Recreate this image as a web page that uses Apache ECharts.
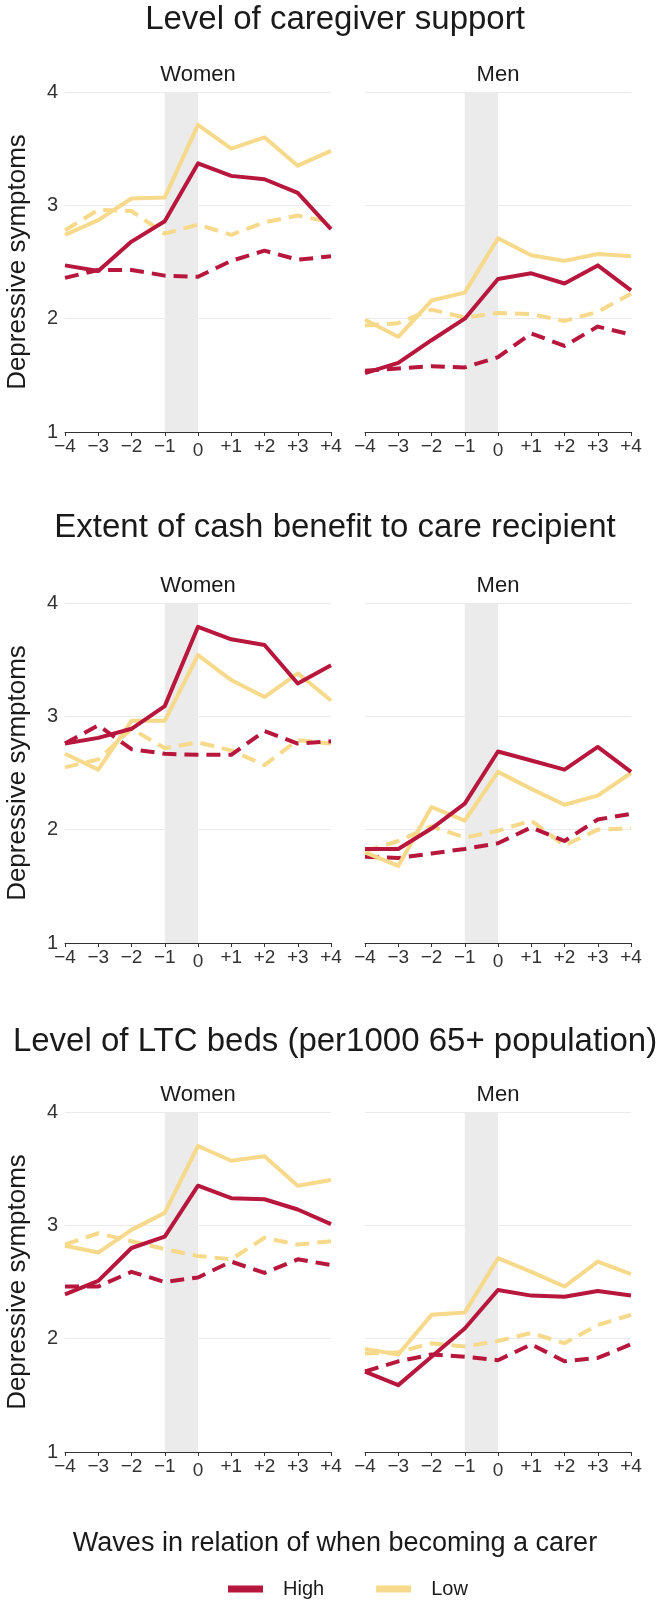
<!DOCTYPE html>
<html>
<head>
<meta charset="utf-8">
<script src="https://cdn.jsdelivr.net/npm/echarts@6/dist/echarts.min.js"></script>
<style>
  html, body { margin: 0; padding: 0; background: #fff; }
  #chart { width: 670px; height: 1600px; }
</style>
</head>
<body>
<div id="chart"></div>
<script>
// waves relative to becoming a carer
const waves = ['\u22124', '\u22123', '\u22122', '\u22121', '0', '+1', '+2', '+3', '+4'];
const sexes = ['Women', 'Men'];
const panelTitles = ['Level of caregiver support', 'Extent of cash benefit to care recipient', 'Level of LTC beds (per1000 65+ population)'];

// Level of caregiver support
const supWomenHigh = [2.47, 2.42, 2.68, 2.86, 3.37, 3.26, 3.23, 3.11, 2.79];
const supWomenHighDash = [2.36, 2.43, 2.43, 2.38, 2.37, 2.51, 2.60, 2.52, 2.55];
const supWomenLow = [2.74, 2.87, 3.06, 3.07, 3.71, 3.50, 3.60, 3.35, 3.48];
const supWomenLowDash = [2.78, 2.96, 2.95, 2.75, 2.83, 2.74, 2.85, 2.91, 2.85];
const supMenHigh = [1.52, 1.61, 1.81, 2.00, 2.35, 2.40, 2.31, 2.47, 2.25];
const supMenHighDash = [1.54, 1.56, 1.58, 1.57, 1.66, 1.87, 1.76, 1.93, 1.86];
const supMenLow = [1.99, 1.84, 2.16, 2.23, 2.71, 2.56, 2.51, 2.57, 2.55];
const supMenLowDash = [1.94, 1.96, 2.08, 2.01, 2.05, 2.04, 1.98, 2.06, 2.22];

// Extent of cash benefit
const cashWomenHigh = [2.76, 2.81, 2.89, 3.09, 3.79, 3.68, 3.63, 3.29, 3.45];
const cashWomenHighDash = [2.76, 2.92, 2.71, 2.67, 2.66, 2.66, 2.87, 2.76, 2.78];
const cashWomenLow = [2.67, 2.53, 2.96, 2.96, 3.54, 3.32, 3.17, 3.38, 3.14];
const cashWomenLowDash = [2.55, 2.62, 2.89, 2.72, 2.77, 2.70, 2.57, 2.79, 2.76];
const cashMenHigh = [1.83, 1.83, 2.01, 2.23, 2.69, 2.61, 2.53, 2.73, 2.51];
const cashMenHighDash = [1.76, 1.75, 1.79, 1.83, 1.88, 2.02, 1.90, 2.09, 2.14];
const cashMenLow = [1.80, 1.68, 2.20, 2.08, 2.51, 2.36, 2.22, 2.30, 2.50];
const cashMenLowDash = [1.81, 1.90, 2.03, 1.93, 1.99, 2.08, 1.86, 2.00, 2.01];

// Level of LTC beds
const bedsWomenHigh = [2.39, 2.51, 2.80, 2.90, 3.35, 3.24, 3.23, 3.14, 3.01];
const bedsWomenHighDash = [2.46, 2.46, 2.59, 2.50, 2.54, 2.68, 2.58, 2.70, 2.65];
const bedsWomenLow = [2.82, 2.76, 2.96, 3.11, 3.70, 3.57, 3.61, 3.35, 3.40];
const bedsWomenLowDash = [2.83, 2.93, 2.86, 2.79, 2.73, 2.70, 2.89, 2.83, 2.86];
const bedsMenHigh = [1.71, 1.59, 1.84, 2.09, 2.43, 2.38, 2.37, 2.42, 2.38];
const bedsMenHighDash = [1.71, 1.80, 1.86, 1.84, 1.81, 1.95, 1.80, 1.83, 1.95];
const bedsMenLow = [1.91, 1.86, 2.21, 2.23, 2.71, 2.59, 2.46, 2.68, 2.57];
const bedsMenLowDash = [1.87, 1.88, 1.96, 1.93, 1.98, 2.05, 1.96, 2.12, 2.21];

const HIGH = '#b8173d';
const LOW = '#f7d98b';
const FONT = 'Liberation Sans, Arial, sans-serif';

const rowTop = [92, 603, 1112];
const rowH = 340;
const colLeft = [65, 365];
const colW = 266;
const titleY = [20, 528, 1042];

const panelData = [
  [[supWomenHigh, supWomenHighDash, supWomenLow, supWomenLowDash], [supMenHigh, supMenHighDash, supMenLow, supMenLowDash]],
  [[cashWomenHigh, cashWomenHighDash, cashWomenLow, cashWomenLowDash], [cashMenHigh, cashMenHighDash, cashMenLow, cashMenLowDash]],
  [[bedsWomenHigh, bedsWomenHighDash, bedsWomenLow, bedsWomenLowDash], [bedsMenHigh, bedsMenHighDash, bedsMenLow, bedsMenLowDash]]
];

const grid = [], xAxis = [], yAxis = [], series = [], graphic = [];

panelData.forEach((row, r) => {
  graphic.push({
    type: 'text', x: 335, y: titleY[r],
    style: { text: panelTitles[r], font: '33px ' + FONT, fill: '#1a1a1a', align: 'center', verticalAlign: 'middle' }
  });
  graphic.push({
    type: 'text', x: 18, y: rowTop[r] + rowH / 2, rotation: Math.PI / 2,
    style: { text: 'Depressive symptoms', font: '26px ' + FONT, fill: '#1a1a1a', align: 'center', verticalAlign: 'middle' }
  });
  row.forEach((vals, c) => {
    const idx = r * 2 + c;
    grid.push({ left: colLeft[c], top: rowTop[r], width: colW, height: rowH });
    graphic.push({
      type: 'text', x: colLeft[c] + colW / 2, y: rowTop[r] - 17,
      style: { text: sexes[c], font: '22px ' + FONT, fill: '#1a1a1a', align: 'center', verticalAlign: 'middle' }
    });
    xAxis.push({
      type: 'category', gridIndex: idx, data: waves, boundaryGap: false,
      axisLine: { lineStyle: { color: '#333', width: 1 } },
      axisTick: { alignWithLabel: true, length: 4, lineStyle: { color: '#333' } },
      axisLabel: {
        fontSize: 19, fontFamily: FONT, color: '#333', margin: 5, interval: 0,
        formatter: v => v === '0' ? '{z|0}' : v,
        rich: { z: { fontSize: 19, fontFamily: FONT, color: '#333', padding: [4, 0, 0, 0] } }
      },
      splitLine: { show: false }
    });
    yAxis.push({
      type: 'value', gridIndex: idx, min: 1, max: 4, interval: 1,
      axisLine: { show: false }, axisTick: { show: false },
      axisLabel: { show: c === 0, fontSize: 20, fontFamily: FONT, color: '#333', margin: 7 },
      splitLine: { lineStyle: { color: '#ebebeb', width: 1 } }
    });
    // shaded band between -1 and 0
    series.push({
      type: 'line', name: 'band', xAxisIndex: idx, yAxisIndex: idx, silent: true,
      data: waves.map(() => '-'), showSymbol: false,
      markArea: { silent: true, itemStyle: { color: '#ebebeb' }, data: [[{ xAxis: '\u22121' }, { xAxis: '0' }]] }
    });
    const [hi, hiDash, lo, loDash] = vals;
    const mk = (name, data, color, dashed) => ({
      type: 'line', name, xAxisIndex: idx, yAxisIndex: idx, data, color,
      showSymbol: false, symbol: 'none',
      lineStyle: { color, width: 4, type: dashed ? [14, 8] : 'solid', join: 'round', cap: 'butt' }
    });
    series.push(mk('Low', loDash, LOW, true));
    series.push(mk('High', hiDash, HIGH, true));
    series.push(mk('Low', lo, LOW, false));
    series.push(mk('High', hi, HIGH, false));
  });
});

graphic.push({
  type: 'text', x: 335, y: 1544,
  style: { text: 'Waves in relation of when becoming a carer', font: '27px ' + FONT, fill: '#1a1a1a', align: 'center', verticalAlign: 'middle' }
});

const chart = echarts.init(document.getElementById('chart'));
chart.setOption({
  animation: false,
  backgroundColor: '#fff',
  grid, xAxis, yAxis, series, graphic,
  legend: {
    left: 223, top: 1574, itemWidth: 35, itemHeight: 7, itemGap: 52, selectedMode: false,
    textStyle: { fontSize: 20, fontFamily: FONT, color: '#1a1a1a', padding: [0, 0, 0, 15] },
    data: [
      { name: 'High', icon: 'rect', itemStyle: { color: HIGH } },
      { name: 'Low', icon: 'rect', itemStyle: { color: LOW } }
    ]
  }
});
</script>
</body>
</html>
